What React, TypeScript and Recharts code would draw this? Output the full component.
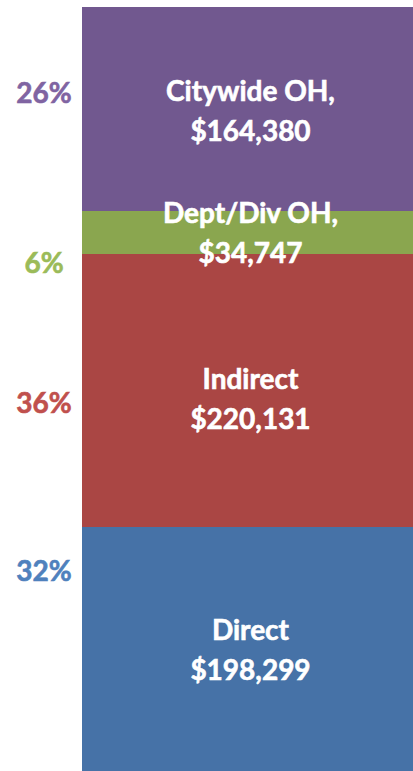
import React from "react";
import { BarChart, Bar, XAxis, YAxis, LabelList } from "recharts";

const categories = ["Cost"];
const seriesKeys = ["direct", "indirect", "dept", "citywide"];
const seriesNames = ["Direct", "Indirect", "Dept/Div OH,", "Citywide OH,"];
const seriesValues = [198299, 220131, 34747, 164380];
const pctLabels = ["32%", "36%", "6%", "26%"];

const BAR_COLORS = ["#4672A7", "#AA4644", "#8AA64F", "#71588F"];
const PCT_COLORS = ["#4F81BD", "#C0504D", "#9BBB59", "#8064A2"];
// visual offsets (styling only)
const INNER_DY = [0, 8, 1, 2];
const PCT_DY = [-79, 12, 31, -16];
const PCT_X = 44;
const FONT = "Lato, 'Open Sans', sans-serif";
const FS = 28;
const CAP = 10;
const LINE = 40;

const row: Record<string, any> = { name: categories[0] };
seriesKeys.forEach((k, i) => (row[k] = seriesValues[i]));
const data = [row];

const fmt = (v: number) => "$" + v.toLocaleString("en-US");

const makeLabel = (i: number) => (props: any) => {
  const { x, y, width, height, value } = props;
  const cx = x + width / 2 + 3;
  const cy = y + height / 2 + INNER_DY[i];
  const common = { textAnchor: "middle" as const, fontFamily: FONT, fontWeight: 700, fontSize: FS, strokeWidth: 0.6 };
  return (
    <g>
      <text x={cx} y={cy - LINE / 2 + CAP} fill="#fff" stroke="#fff" {...common}>
        {seriesNames[i]}
      </text>
      <text x={cx} y={cy + LINE / 2 + CAP} fill="#fff" stroke="#fff" {...common}>
        {fmt(Number(value))}
      </text>
      <text x={PCT_X} y={y + height / 2 + PCT_DY[i] + CAP} fill={PCT_COLORS[i]} stroke={PCT_COLORS[i]} {...common}>
        {pctLabels[i]}
      </text>
    </g>
  );
};

export default function App() {
  return (
    <div style={{ position: "absolute", left: 0, top: 0, width: 413, height: 771, background: "#fff" }}>
      <BarChart width={413} height={773} data={data} margin={{ top: 7, right: 0, bottom: 0, left: 82 }} barCategoryGap={0}>
        <XAxis dataKey="name" hide />
        <YAxis hide domain={[0, "dataMax"]} />
        {seriesKeys.map((k, i) => (
          <Bar key={k} dataKey={k} stackId="a" fill={BAR_COLORS[i]} isAnimationActive={false}>
            <LabelList dataKey={k} content={makeLabel(i)} />
          </Bar>
        ))}
      </BarChart>
    </div>
  );
}
